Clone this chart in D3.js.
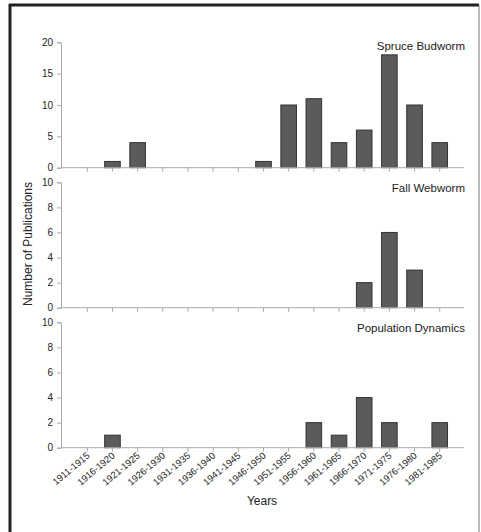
<!DOCTYPE html>
<html>
<head>
<meta charset="utf-8">
<script src="https://cdn.jsdelivr.net/npm/d3@7"></script>
<style>
  body { margin: 0; background: #fff; }
  text { font-family: Arial, "Liberation Sans", sans-serif; fill: #222; }
</style>
</head>
<body>
<svg width="481" height="532"></svg>
<script>
// five-year periods
const periods = ["1911-1915", "1916-1920", "1921-1925", "1926-1930", "1931-1935",
  "1936-1940", "1941-1945", "1946-1950", "1951-1955", "1956-1960",
  "1961-1965", "1966-1970", "1971-1975", "1976-1980", "1981-1985"];

const spruceBudworm = [0, 1, 4, 0, 0, 0, 0, 1, 10, 11, 4, 6, 18, 10, 4];
const fallWebworm = [0, 0, 0, 0, 0, 0, 0, 0, 0, 0, 0, 2, 6, 3, 0];
const populationDynamics = [0, 1, 0, 0, 0, 0, 0, 0, 0, 2, 1, 4, 2, 0, 2];

const panelTitles = ["Spruce Budworm", "Fall Webworm", "Population Dynamics"];
const panelMax = [20, 10, 10];
const panelTicks = [[0, 5, 10, 15, 20], [0, 2, 4, 6, 8, 10], [0, 2, 4, 6, 8, 10]];

var svg = d3.select("svg");

// frame
svg.append("line").attr("x1", 10).attr("x2", 10).attr("y1", 4).attr("y2", 532)
    .attr("stroke", "#222").attr("stroke-width", 3);
svg.append("line").attr("x1", 9).attr("x2", 479).attr("y1", 5).attr("y2", 5)
    .attr("stroke", "#222").attr("stroke-width", 3);
svg.append("line").attr("x1", 479).attr("x2", 479).attr("y1", 5).attr("y2", 532)
    .attr("stroke", "#777").attr("stroke-width", 1);

var axisLeft = 61, axisRight = 464;

var x = d3.scaleBand()
    .domain(periods)
    .range([74.7, 452.3])
    .paddingInner(0.38)
    .paddingOuter(0.19);

var series = [spruceBudworm, fallWebworm, populationDynamics];
var panelTop = [42.3, 182.3, 322.3], panelH = 125.4;

series.forEach((vals, p) => {
    var y = d3.scaleLinear()
        .domain([0, panelMax[p]])
        .range([panelTop[p] + panelH, panelTop[p]]);

    var g = svg.append("g");

    // y axis
    var ya = g.append("g")
        .attr("transform", `translate(${axisLeft},0)`)
        .call(d3.axisLeft(y).tickValues(panelTicks[p]).tickSize(4).tickPadding(4));
    ya.select(".domain").attr("stroke", "#aaa");
    ya.selectAll(".tick line").attr("stroke", "#aaa");
    ya.selectAll(".tick text").style("font-size", "10px").attr("fill", "#222");

    // bars
    g.selectAll(".bar")
        .data(vals.map((v, i) => ({ period: periods[i], value: v })).filter(d => d.value > 0))
        .enter().append("rect")
        .attr("class", "bar")
        .attr("x", d => x(d.period))
        .attr("width", x.bandwidth())
        .attr("y", d => y(d.value))
        .attr("height", d => y(0) - y(d.value))
        .attr("fill", "#5b5b5b")
        .attr("stroke", "#333")
        .attr("stroke-width", 1);

    // x axis
    var baseY = y(0);
    g.append("line")
        .attr("x1", axisLeft).attr("x2", axisRight)
        .attr("y1", baseY).attr("y2", baseY)
        .attr("stroke", "#aaa");
    g.selectAll(".xtick")
        .data(periods)
        .enter().append("line")
        .attr("class", "xtick")
        .attr("x1", d => x(d) + x.bandwidth() / 2)
        .attr("x2", d => x(d) + x.bandwidth() / 2)
        .attr("y1", baseY).attr("y2", baseY + 4)
        .attr("stroke", "#aaa");

    // panel title
    g.append("text")
        .attr("x", 465)
        .attr("y", panelTop[p] + (p === 0 ? 8 : 9.5))
        .attr("text-anchor", "end")
        .style("font-size", "11.5px")
        .text(panelTitles[p]);

    if (p === 2) {
        g.selectAll(".xlabel")
            .data(periods)
            .enter().append("text")
            .attr("class", "xlabel")
            .attr("text-anchor", "end")
            .attr("transform", d => `translate(${x(d) + x.bandwidth() / 2 + 3},${baseY + 9}) rotate(-40)`)
            .style("font-size", "9.5px")
            .text(d => d);
    }
});

// axis titles
svg.append("text")
    .attr("transform", "translate(32,244) rotate(-90)")
    .attr("text-anchor", "middle")
    .style("font-size", "12px")
    .text("Number of Publications");

svg.append("text")
    .attr("x", 262)
    .attr("y", 505)
    .attr("text-anchor", "middle")
    .style("font-size", "12px")
    .text("Years");
</script>
</body>
</html>
